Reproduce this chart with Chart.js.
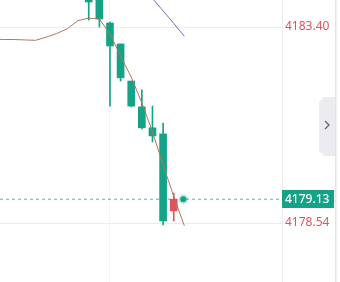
<!DOCTYPE html>
<html><head><meta charset="utf-8">
<script src="https://cdn.jsdelivr.net/npm/chart.js@4.4.1/dist/chart.umd.min.js"></script>
<style>html,body{margin:0;padding:0;background:#fff;overflow:hidden}#wrap{position:relative;width:340px;height:282px}</style>
</head><body><div id="wrap"><canvas id="c" width="340" height="282"></canvas></div>
<script>
// ---- data ----
const candleIndex = [0, 1, 2, 3, 4, 5, 6, 7, 8];
const openP  = [4184.30, 4184.15, 4183.50, 4182.98, 4182.06, 4181.42, 4180.90, 4180.75, 4178.84];
const highP  = [4184.40, 4184.25, 4183.52, 4182.98, 4182.06, 4181.84, 4181.44, 4181.02, 4179.28];
const lowP   = [4183.57, 4183.40, 4181.44, 4182.06, 4181.42, 4180.87, 4180.55, 4178.49, 4178.59];
const closeP = [4184.02, 4183.60, 4182.93, 4182.14, 4181.44, 4180.90, 4180.70, 4178.59, 4179.13];

const maIndex = [-9, -8, -7, -6, -5, -4, -3, -2, -1, 0, 1, 2, 3, 4, 5, 6, 7, 8, 9];
const maBrown = [4183.10, 4183.09, 4183.09, 4183.08, 4183.07, 4183.15, 4183.24, 4183.36, 4183.56, 4183.62, 4183.60, 4183.23, 4182.68, 4182.16, 4181.52, 4180.80, 4179.98, 4179.20, 4178.47];
const maBlueIndex = [5, 6, 7, 8, 9];
const maBlue = [4184.43, 4184.11, 4183.80, 4183.49, 4183.17];

const yTickValues = [4183.40, 4178.54];
const lastIndex = 8.9;
const lastPrice = 4179.13;
const xGridIndex = [2];

// ---- style ----
const TEAL = '#13a386', RED = '#e0535c', BROWN = '#b3755c', BLUE = '#6b6fd4';
const X_MIN = -8.35, X_MAX = 18.19, Y_MIN = 4177.077, Y_MAX = 4184.07;

Chart.defaults.font.family = '"Noto Sans", sans-serif';

const bodyData = candleIndex.map((x, i) => ({x, y: [openP[i], closeP[i]]}));
const wickData = candleIndex.map((x, i) => ({x, y: [lowP[i], highP[i]]}));
const colors = candleIndex.map((x, i) => closeP[i] >= openP[i] ? RED : TEAL);

const overlay = {
  id: 'overlay',
  afterDraw(chart) {
    const ctx = chart.ctx, a = chart.chartArea;
    const y = chart.scales.y.getPixelForValue(lastPrice);
    ctx.save();
    ctx.fillStyle = TEAL;
    ctx.fillRect(a.right, Math.round(y) - 9, 52, 18);
    ctx.fillStyle = '#ffffff';
    ctx.font = '500 12px "Noto Sans"';
    ctx.textBaseline = 'middle';
    ctx.textAlign = 'left';
    ctx.fillText(lastPrice.toFixed(2), a.right + 3, Math.round(y) + 0.5);
    // side panel
    ctx.fillStyle = '#e4e4e4';
    ctx.fillRect(335, 0, 1.5, 282);
    ctx.fillStyle = '#ececf0';
    ctx.beginPath();
    ctx.moveTo(324, 97); ctx.lineTo(335, 97); ctx.lineTo(335, 156);
    ctx.lineTo(324, 156); ctx.lineTo(319, 151); ctx.lineTo(319, 102);
    ctx.closePath(); ctx.fill();
    ctx.strokeStyle = '#666';
    ctx.lineWidth = 1.3;
    ctx.beginPath();
    ctx.moveTo(325, 121); ctx.lineTo(329, 125); ctx.lineTo(325, 129);
    ctx.stroke();
    ctx.restore();
  }
};

new Chart(document.getElementById('c'), {
  type: 'bar',
  data: {
    datasets: [
      { type: 'line', data: [{x: X_MIN, y: lastPrice}, {x: X_MAX, y: lastPrice}], borderColor: 'rgba(19,163,134,0.75)', borderWidth: 1, borderDash: [3, 3], pointRadius: 0, order: 10 },
      { data: wickData, backgroundColor: colors, barThickness: 1, borderWidth: 0, grouped: false, order: 6 },
      { data: bodyData, backgroundColor: colors, barThickness: 7, borderWidth: 0, grouped: false, minBarLength: 1, order: 5 },
      { type: 'line', data: maIndex.map((x, i) => ({x, y: maBrown[i]})), borderColor: BROWN, borderWidth: 1, pointRadius: 0, tension: 0, order: 2 },
      { type: 'line', data: maBlueIndex.map((x, i) => ({x, y: maBlue[i]})), borderColor: BLUE, borderWidth: 1, pointRadius: 0, tension: 0, order: 2 },
      { type: 'line', showLine: false, data: [{x: lastIndex, y: lastPrice}], pointRadius: 3, pointBackgroundColor: TEAL, pointBorderColor: 'rgba(19,163,134,0.25)', pointBorderWidth: 4, order: 0 }
    ]
  },
  options: {
    responsive: false,
    animation: false,
    devicePixelRatio: 1,
    layout: { padding: 0, autoPadding: false },
    plugins: { legend: { display: false }, tooltip: { enabled: false } },
    scales: {
      x: {
        type: 'linear', min: X_MIN, max: X_MAX, offset: false,
        grid: { color: '#f3f3f3', drawTicks: false, offset: false },
        border: { display: false },
        ticks: { display: false },
        afterBuildTicks: s => { s.ticks = xGridIndex.map(v => ({value: v})); },
        afterFit: s => { s.height = 0; s.paddingLeft = 0; s.paddingRight = 0; }
      },
      y: {
        type: 'linear', position: 'right', min: Y_MIN, max: Y_MAX,
        grid: { color: '#ececec', drawTicks: false },
        border: { display: true, color: '#ececec' },
        ticks: { color: RED, font: { size: 12 }, padding: 3, callback: v => Number(v).toFixed(2) },
        afterBuildTicks: s => { s.ticks = yTickValues.map(v => ({value: v})); },
        afterFit: s => { s.width = 58; s.paddingTop = 0; s.paddingBottom = 0; }
      }
    }
  },
  plugins: [overlay]
});
</script></body></html>
